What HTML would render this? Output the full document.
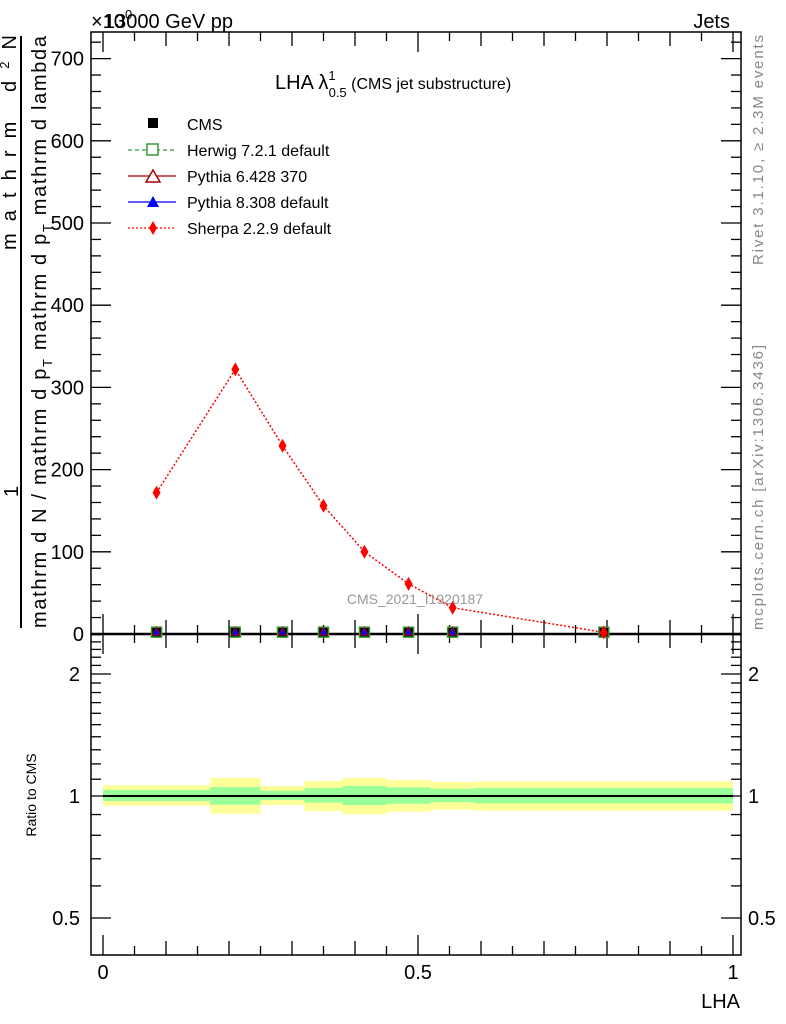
<!DOCTYPE html>
<html><head><meta charset="utf-8"><style>
body{margin:0;background:#fff}
svg{display:block;font-family:"Liberation Sans",sans-serif}
</style></head><body>
<svg id="c" width="786" height="1024" viewBox="0 0 786 1024">
<g id="g"></g>
<g>
<text x="91" y="28" font-size="20">×10<tspan font-size="13" dy="-9">0</tspan></text>
<text x="104" y="28" font-size="20">13000 GeV pp</text>
<text x="730" y="28" font-size="20" text-anchor="end">Jets</text>
<text x="275" y="89" font-size="20">LHA λ<tspan font-size="13" dy="-9">1</tspan><tspan font-size="13" dx="-7" dy="17">0.5</tspan><tspan font-size="16" dy="-8"> (CMS jet substructure)</tspan></text>
<g font-size="16">
<rect x="148" y="118" width="10" height="10" fill="#000"/><text x="187" y="130">CMS</text>
<line x1="128" x2="176" y1="150" y2="150" stroke="#393" stroke-dasharray="4,3" stroke-width="1.3"/><rect x="147" y="144" width="11" height="11" fill="#fff" stroke="#393" stroke-width="1.5"/><text x="187" y="156">Herwig 7.2.1 default</text>
<line x1="128" x2="176" y1="176" y2="176" stroke="#a00" stroke-width="1.3"/><polygon points="146,182 160,182 153,170" fill="#fff" stroke="#a00" stroke-width="1.5"/><text x="187" y="182">Pythia 6.428 370</text>
<line x1="128" x2="176" y1="202" y2="202" stroke="#00f" stroke-width="1.3"/><polygon points="147,207 159,207 153,196" fill="#00f"/><text x="187" y="208">Pythia 8.308 default</text>
<line x1="128" x2="176" y1="228" y2="228" stroke="#f00" stroke-dasharray="2,2" stroke-width="1.3"/><polygon points="153,221 157,228 153,235 149,228" fill="#f00"/><text x="187" y="234">Sherpa 2.2.9 default</text>
</g>
<text x="415" y="604" font-size="14" fill="#999" text-anchor="middle">CMS_2021_I1920187</text>
<text transform="translate(763,265) rotate(-90)" font-size="15" fill="#888" textLength="230">Rivet 3.1.10, ≥ 2.3M events</text>
<text transform="translate(763,630) rotate(-90)" font-size="15" fill="#888" textLength="285">mcplots.cern.ch [arXiv:1306.3436]</text>
<g font-size="20">
<line x1="21" x2="21" y1="36" y2="628" stroke="#000" stroke-width="2"/>
<text transform="translate(18,497) rotate(-90)">1</text>
<text transform="translate(16,250) rotate(-90)" textLength="215">mathrm d<tspan font-size="13" dy="-7">2</tspan><tspan dy="7">N</tspan></text>
<text transform="translate(46,628) rotate(-90)" textLength="592">mathrm d N / mathrm d p<tspan font-size="13" dy="6">T</tspan><tspan dy="-6"> mathrm d p</tspan><tspan font-size="13" dy="6">T</tspan><tspan dy="-6"> mathrm d lambda</tspan></text>
</g>
<text transform="translate(36,795) rotate(-90)" font-size="14" text-anchor="middle">Ratio to CMS</text>
<text x="740" y="1008" font-size="20" text-anchor="end">LHA</text>
</g>
</svg>
<script>
const binEdges=[0,0.17,0.25,0.32,0.38,0.45,0.52,0.59,1.0];
const xPoints=[0.085,0.21,0.285,0.35,0.415,0.485,0.555,0.795];
const sherpaVals=[172,322,229,156,100,61,32,2];
const cmsVals=[1,1,1,1,1,1,1,1];
const yellowHi=[1.063,1.108,1.058,1.089,1.108,1.095,1.083,1.087];
const yellowLo=[0.946,0.904,0.950,0.918,0.901,0.915,0.925,0.920];
const greenHi=[1.035,1.052,1.030,1.046,1.058,1.050,1.042,1.046];
const greenLo=[0.972,0.952,0.978,0.963,0.950,0.957,0.965,0.959];
const yTicks=[0,100,200,300,400,500,600,700];
const rTicks=[0.5,1,2];

const NS='http://www.w3.org/2000/svg';
const g=document.getElementById('g');
function el(t,a,txt){const e=document.createElementNS(NS,t);for(const k in a)e.setAttribute(k,a[k]);if(txt!==undefined)e.textContent=txt;g.appendChild(e);return e;}
const L=91,R=741,T=32,M=634,B=955;
const X=v=>103+v*630;
const Y=v=>634-v*0.822;
const YR=r=>796-122*Math.log2(r);

for(let i=0;i<binEdges.length-1;i++){
  const x0=X(binEdges[i]),x1=X(binEdges[i+1]);
  const y=el('rect',{x:x0,y:YR(yellowHi[i]),width:x1-x0,height:YR(yellowLo[i])-YR(yellowHi[i]),fill:'#ffff99'});
  
  
  const gr=el('rect',{x:x0,y:YR(greenHi[i]),width:x1-x0,height:YR(greenLo[i])-YR(greenHi[i]),fill:'#99ff99'});
  
  
}
el('line',{x1:X(0),x2:X(1),y1:YR(1),y2:YR(1),stroke:'#000','stroke-width':2,});

el('rect',{x:L,y:T,width:R-L,height:M-T,fill:'none',stroke:'#000','stroke-width':1.5,});
el('rect',{x:L,y:M,width:R-L,height:B-M,fill:'none',stroke:'#000','stroke-width':1.5,});
el('line',{x1:L,x2:R,y1:M,y2:M,stroke:'#000','stroke-width':2.5});

for(let v=0;v<=730;v+=20){const y=Y(v);const maj=v%100===0;const len=maj?20:10;
  el('line',{x1:L,x2:L+len,y1:y,y2:y,stroke:'#000','stroke-width':1.3});
  el('line',{x1:R,x2:R-len,y1:y,y2:y,stroke:'#000','stroke-width':1.3});}
yTicks.forEach(v=>{const t=el('text',{x:84,y:Y(v)+7,'font-size':20,'text-anchor':'end'},String(v));
  });

for(let k=0;k<=20;k++){const v=k*0.05;const x=X(v);const maj=k%10===0;const mid=k%2===0;
  const len=maj?20:(mid?14:9);
  el('line',{x1:x,x2:x,y1:M,y2:M-len,stroke:'#000','stroke-width':1.3});
  el('line',{x1:x,x2:x,y1:M,y2:M+len,stroke:'#000','stroke-width':1.3});
  el('line',{x1:x,x2:x,y1:T,y2:T+len,stroke:'#000','stroke-width':1.3});
  el('line',{x1:x,x2:x,y1:B,y2:B-len,stroke:'#000','stroke-width':1.3});}
[[0,'0'],[0.5,'0.5'],[1,'1']].forEach(([v,s])=>{const t=el('text',{x:X(v),y:979,'font-size':20,'text-anchor':'middle'},s);
  });

const rminor=[0.5,0.6,0.7,0.8,0.9,1,1.1,1.2,1.3,1.4,1.5,1.6,1.7,1.8,1.9,2,2.1,2.2,2.3,2.4,2.5];
rminor.forEach(r=>{const y=YR(r);if(y<M)return;const maj=rTicks.includes(r);const len=maj?20:10;
  el('line',{x1:L,x2:L+len,y1:y,y2:y,stroke:'#000','stroke-width':1.3});
  el('line',{x1:R,x2:R-len,y1:y,y2:y,stroke:'#000','stroke-width':1.3});});
rTicks.forEach(r=>{
  const t=el('text',{x:80,y:YR(r)+7,'font-size':20,'text-anchor':'end'},String(r));
  
  const t2=el('text',{x:748,y:YR(r)+7,'font-size':20},String(r));
  });

el('polyline',{points:xPoints.map((x,i)=>X(x)+','+Y(sherpaVals[i])).join(' '),fill:'none',stroke:'#f00','stroke-width':1.5,'stroke-dasharray':'2,2',});
xPoints.forEach((x,i)=>{const cx=X(x),cy=Y(cmsVals[i])-1;
  const s=el('rect',{x:cx-5,y:cy-5,width:10,height:10,fill:'#000',stroke:'#393','stroke-width':1.5});
  
  const tr=el('polygon',{points:`${cx-4},${cy+3} ${cx+4},${cy+3} ${cx},${cy-5}`,fill:'#00f',stroke:'#a00','stroke-width':1});
  });
xPoints.forEach((x,i)=>{const cx=X(x),cy=Y(sherpaVals[i]);
  const d=el('polygon',{points:`${cx},${cy-7} ${cx+4},${cy} ${cx},${cy+7} ${cx-4},${cy}`,fill:'#f00'});
  });
</script>
</body></html>
